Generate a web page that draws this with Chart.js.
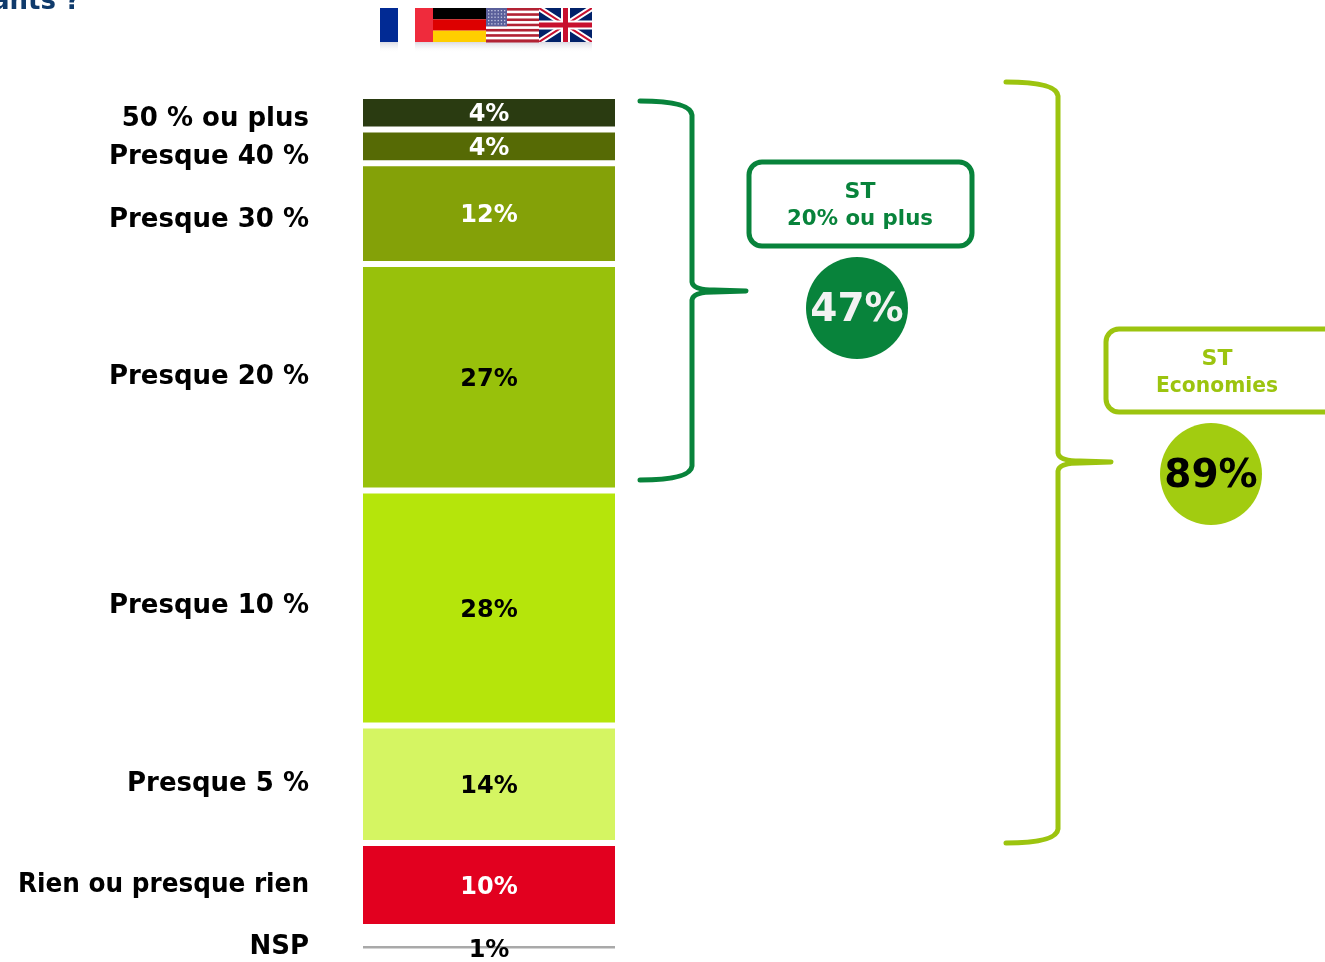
<!DOCTYPE html>
<html>
<head>
<meta charset="utf-8">
<title>Economies</title>
<script src="https://cdn.jsdelivr.net/npm/chart.js@4"></script>
<style>
body{margin:0;background:#fff;}
canvas{display:block;}
</style>
</head>
<body>
<canvas id="grafica" width="1325" height="962"></canvas>
<script>
const categorias = ['50 % ou plus','Presque 40 %','Presque 30 %','Presque 20 %','Presque 10 %','Presque 5 %','Rien ou presque rien','NSP'];
const valores = [4,4,12,27,28,14,10,1];
const colores = ['#2a3b11','#566a05','#84a108','#98c10b','#b5e50b','#d5f562','#e2001f','#a9a9a9'];
const coloresTexto = ['#fff','#fff','#fff','#000','#000','#000','#fff','#000'];
// les libellés ne sont pas tout à fait centrés sur les barres
const decalageCategorie = [6,11,7,0,-2,0,0,0];
const decalageValeur = [2,2,2,3,3,2,3,4];
// blanc entre Rien et NSP
const ecartNsp = 1.9;
const FONT = '"DejaVu Sans"';

var datasets = categorias.map(function(c,i){
    return {
        label:c,
        data:[valores[i]],
        backgroundColor:colores[i],
        borderColor:'#fff',
        borderWidth:{top:3,bottom:3,left:0,right:0},
        borderSkipped:false,
        inflateAmount:0
    };
});
datasets.splice(7,0,{label:'ecart',data:[ecartNsp],backgroundColor:'rgba(0,0,0,0)',borderWidth:0,inflateAmount:0});

function accolade(ctx,x,x0,xp,y1,ym,y2,color){
    ctx.strokeStyle=color;
    ctx.lineWidth=5;
    ctx.lineCap='round';
    ctx.lineJoin='round';
    ctx.beginPath();
    ctx.moveTo(x0,y1);
    ctx.bezierCurveTo(x0+28,y1,x-1,y1+3,x,y1+14);
    ctx.lineTo(x,ym-9);
    ctx.quadraticCurveTo(x+1,ym-1,x+22,ym-1);
    ctx.lineTo(xp,ym);
    ctx.lineTo(x+22,ym+1);
    ctx.quadraticCurveTo(x+1,ym+1,x,ym+9);
    ctx.lineTo(x,y2-14);
    ctx.bezierCurveTo(x-1,y2-3,x0+28,y2,x0,y2);
    ctx.stroke();
    ctx.lineCap='butt';
}

function caja(ctx,x,y,w,h,color,t1,t2,cx,ancho){
    ctx.strokeStyle=color;
    ctx.lineWidth=5;
    ctx.beginPath();
    ctx.roundRect(x,y,w,h,13);
    ctx.stroke();
    ctx.fillStyle=color;
    ctx.font='bold 22px '+FONT;
    ctx.textAlign='center';
    ctx.textBaseline='middle';
    ctx.fillText(t1,cx,y+30);
    ctx.fillText(t2,cx,y+57,ancho);
}

function circulo(ctx,x,y,color,colorTexto,t){
    ctx.fillStyle=color;
    ctx.beginPath();
    ctx.arc(x,y,51,0,Math.PI*2);
    ctx.fill();
    ctx.fillStyle=colorTexto;
    ctx.font='bold 39px '+FONT;
    ctx.textAlign='center';
    ctx.textBaseline='middle';
    ctx.fillText(t,x,y+3);
}

function banderas(ctx){
    var top=8,h=34;
    // reflet
    [[380,18],[415,18],[433,159]].forEach(function(r){
        var g=ctx.createLinearGradient(0,top+h,0,top+h+11);
        g.addColorStop(0,'rgba(150,150,175,0.35)');
        g.addColorStop(1,'rgba(255,255,255,0)');
        ctx.fillStyle=g;
        ctx.fillRect(r[0],top+h,r[1],11);
    });
    // France
    ctx.fillStyle='#012a94';ctx.fillRect(380,top,18,h);
    ctx.fillStyle='#ef2b3c';ctx.fillRect(415,top,18,h);
    // Allemagne
    ctx.fillStyle='#000';ctx.fillRect(433,top,53,h/3);
    ctx.fillStyle='#dd0000';ctx.fillRect(433,top+h/3,53,h/3);
    ctx.fillStyle='#ffce00';ctx.fillRect(433,top+2*h/3,53,h/3);
    // USA
    for(var i=0;i<13;i++){
        ctx.fillStyle=i%2?'#fff':'#b22234';
        ctx.fillRect(486,top+i*h/13,53,h/13+0.5);
    }
    ctx.fillStyle='#5a5f9a';ctx.fillRect(486,top,21,h*7/13);
    ctx.fillStyle='#c8cbe4';
    for(var r=0;r<5;r++){
        for(var c=0;c<6;c++){
            ctx.fillRect(488+c*3.2,top+2+r*3.3,1.3,1.3);
        }
    }
    // Royaume-Uni
    ctx.save();
    ctx.beginPath();ctx.rect(539,top,53,h);ctx.clip();
    ctx.fillStyle='#012169';ctx.fillRect(539,top,53,h);
    ctx.strokeStyle='#fff';ctx.lineWidth=6;
    ctx.beginPath();ctx.moveTo(539,top);ctx.lineTo(592,top+h);ctx.moveTo(592,top);ctx.lineTo(539,top+h);ctx.stroke();
    ctx.strokeStyle='#c8102e';ctx.lineWidth=2;
    ctx.beginPath();ctx.moveTo(539,top);ctx.lineTo(592,top+h);ctx.moveTo(592,top);ctx.lineTo(539,top+h);ctx.stroke();
    ctx.fillStyle='#fff';ctx.fillRect(561,top,9,h);ctx.fillRect(539,top+12.5,53,9);
    ctx.fillStyle='#c8102e';ctx.fillRect(563,top,5,h);ctx.fillRect(539,top+14.5,53,5);
    ctx.restore();
}

var textos = {
    id:'textos',
    afterDraw:function(chart){
        var ctx=chart.ctx;
        ctx.save();
        // fin du titre coupé en haut
        ctx.fillStyle='#0f3a6b';
        ctx.font='bold 26px '+FONT;
        ctx.textAlign='right';
        ctx.textBaseline='alphabetic';
        ctx.fillText('ants ?',80,9);

        banderas(ctx);

        categorias.forEach(function(c,i){
            var bar=chart.getDatasetMeta(datasets.findIndex(function(d){return d.label===c;})).data[0];
            var medio=bar.getCenterPoint().y;
            ctx.fillStyle='#000';
            ctx.font='bold 26px '+FONT;
            ctx.textAlign='right';
            ctx.textBaseline='middle';
            ctx.fillText(c,309,medio+decalageCategorie[i],291);
            ctx.fillStyle=coloresTexto[i];
            ctx.font='bold 24px '+FONT;
            ctx.textAlign='center';
            ctx.fillText(valores[i]+'%',bar.x,medio+decalageValeur[i]);
        });

        accolade(ctx,692,640,746,101,291,480,'#08833b');
        accolade(ctx,1058,1006,1111,82,462,843,'#9cc40f');
        caja(ctx,749,162,223,84,'#08833b','ST','20% ou plus',860,146);
        caja(ctx,1106,329,240,83,'#9cc40f','ST','Economies',1217,122);
        circulo(ctx,857,308,'#08833b','#f2f2f2','47%');
        circulo(ctx,1211,474,'#a2cc10','#000','89%');
        ctx.restore();
    }
};

var myChart = new Chart(document.getElementById('grafica').getContext('2d'),{
    type:'bar',
    data:{
        labels:['Economies'],
        datasets:datasets
    },
    options:{
        responsive:false,
        animation:false,
        layout:{padding:{left:363,right:710,top:96,bottom:10.6}},
        datasets:{bar:{categoryPercentage:1,barPercentage:1}},
        scales:{
            x:{stacked:true,display:false},
            y:{stacked:true,display:false,reverse:true,min:0,max:101.9}
        },
        plugins:{
            legend:{display:false},
            title:{display:false},
            tooltip:{enabled:false}
        }
    },
    plugins:[textos]
});
</script>
</body>
</html>
